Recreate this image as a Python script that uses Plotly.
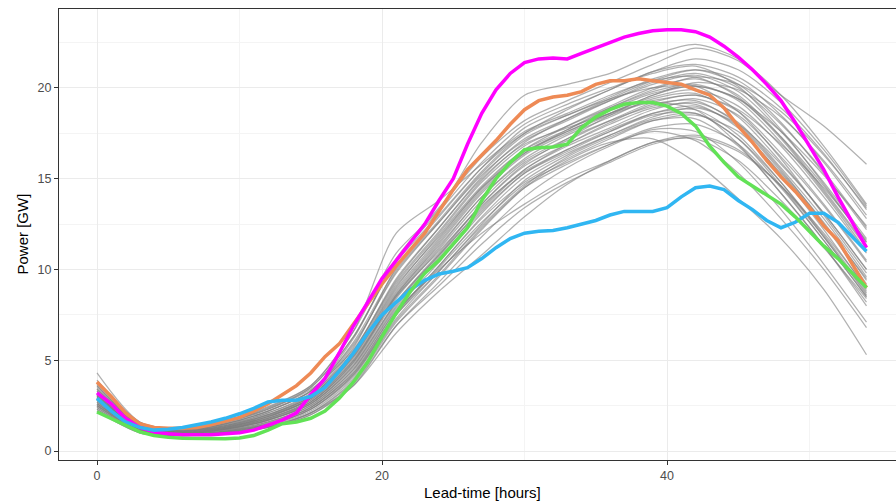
import plotly.graph_objects as go

# ---- data ----
lead_hourly = list(range(55))
lead_3h = [0, 3, 6, 9, 12, 15, 18, 21, 24, 27, 30, 33, 36, 39, 42, 45, 48, 51, 54]

magenta = [3.2, 2.6, 1.8, 1.3, 1.05, 0.95, 0.9, 0.9, 0.9, 0.95, 1.0, 1.15, 1.4, 1.7, 2.1,
           3.1, 4.0, 5.4, 6.9, 8.2, 9.5, 10.5, 11.5, 12.5, 13.8, 15.0, 16.9, 18.6, 19.9, 20.8,
           21.4, 21.6, 21.65, 21.6, 21.9, 22.2, 22.5, 22.8, 23.0, 23.15, 23.2, 23.2, 23.1, 22.8,
           22.3, 21.7, 21.0, 20.2, 19.3, 18.1, 16.8, 15.5, 14.0, 12.6, 11.2]
orange = [3.8, 3.0, 2.1, 1.5, 1.3, 1.25, 1.25, 1.3, 1.45, 1.65, 1.85, 2.2, 2.6, 3.1, 3.6,
          4.3, 5.2, 5.9, 7.0, 8.1, 9.2, 10.2, 11.1, 12.0, 13.2, 14.4, 15.5, 16.3, 17.1, 18.0,
          18.8, 19.3, 19.5, 19.6, 19.8, 20.2, 20.4, 20.4, 20.5, 20.4, 20.3, 20.2, 19.9, 19.6,
          18.9, 17.9, 17.0, 16.0, 15.1, 14.3, 13.4, 12.4, 11.6, 10.3, 9.0]
green = [2.15, 1.8, 1.4, 1.05, 0.85, 0.75, 0.7, 0.68, 0.66, 0.67, 0.72, 0.85, 1.15, 1.5, 1.6,
         1.8, 2.2, 2.9, 3.8, 4.9, 6.3, 7.6, 8.8, 9.8, 10.5, 11.4, 12.3, 13.8, 15.0, 15.9,
         16.6, 16.7, 16.75, 16.9, 17.8, 18.4, 18.8, 19.1, 19.2, 19.2, 19.0, 18.6, 17.9, 16.8,
         15.9, 15.1, 14.6, 14.1, 13.6, 12.9, 12.1, 11.3, 10.6, 9.8, 9.0]
blue = [2.9, 2.2, 1.6, 1.3, 1.15, 1.2, 1.3, 1.45, 1.6, 1.8, 2.05, 2.35, 2.7, 2.8, 2.8,
        3.0, 3.5, 4.4, 5.4, 6.5, 7.5, 8.2, 8.9, 9.4, 9.75, 9.9, 10.1, 10.6, 11.2, 11.7,
        12.0, 12.1, 12.15, 12.3, 12.5, 12.7, 13.0, 13.2, 13.2, 13.2, 13.4, 14.0, 14.5, 14.6,
        14.4, 13.8, 13.3, 12.7, 12.3, 12.6, 13.1, 13.1, 12.6, 11.8, 11.0]

members = [
    [2.9, 1.3, 1.0, 1.2, 1.7, 2.7, 4.9, 8.5, 11.2, 14.0, 16.0, 17.2, 18.2, 19.0, 19.4, 18.5, 16.2, 13.5, 10.4],
    [3.1, 1.4, 1.1, 1.4, 2.0, 3.0, 5.4, 9.2, 12.0, 14.8, 16.8, 17.9, 18.9, 19.8, 20.2, 19.3, 17.0, 14.2, 11.0],
    [2.6, 1.2, 0.95, 1.1, 1.5, 2.4, 4.3, 7.8, 10.4, 13.1, 15.3, 16.6, 17.7, 18.6, 19.0, 17.9, 15.4, 12.6, 9.4],
    [3.4, 1.5, 1.2, 1.5, 2.2, 3.3, 5.9, 9.8, 12.6, 15.3, 17.4, 18.5, 19.5, 20.5, 21.0, 20.2, 18.1, 15.3, 12.2],
    [2.4, 1.1, 0.9, 1.0, 1.4, 2.2, 4.0, 7.3, 9.9, 12.4, 14.6, 16.2, 17.3, 18.2, 18.3, 16.8, 14.2, 11.3, 8.2],
    [3.0, 1.3, 1.05, 1.3, 1.9, 2.9, 5.2, 8.8, 11.6, 14.4, 16.5, 17.6, 18.6, 19.5, 19.9, 19.0, 16.8, 14.0, 10.9],
    [4.3, 1.6, 1.2, 1.6, 2.3, 3.4, 5.6, 9.4, 12.3, 15.0, 16.9, 17.8, 18.6, 19.3, 19.6, 18.8, 16.9, 14.5, 11.6],
    [2.2, 1.0, 0.85, 1.0, 1.3, 2.0, 3.6, 6.9, 9.3, 11.8, 14.0, 15.6, 16.8, 17.7, 17.6, 15.9, 13.3, 10.3, 7.1],
    [3.3, 1.4, 1.1, 1.4, 2.1, 3.1, 5.7, 10.1, 12.9, 15.6, 17.8, 18.9, 19.9, 20.9, 21.6, 21.0, 19.2, 16.6, 13.5],
    [2.8, 1.25, 1.0, 1.2, 1.7, 2.6, 4.7, 8.2, 10.9, 13.6, 15.7, 16.9, 18.0, 18.9, 19.1, 17.8, 15.2, 12.2, 8.9],
    [3.6, 1.5, 1.15, 1.5, 2.2, 3.3, 6.2, 10.6, 13.4, 16.2, 18.2, 19.3, 20.3, 21.3, 22.2, 21.5, 19.6, 17.9, 15.8],
    [2.5, 1.15, 0.9, 1.05, 1.45, 2.3, 4.2, 7.6, 10.2, 12.9, 15.1, 16.4, 17.4, 18.3, 18.6, 17.2, 14.6, 11.6, 8.5],
    [3.2, 1.35, 1.05, 1.35, 2.0, 3.0, 5.5, 9.5, 12.3, 15.1, 17.2, 18.3, 19.3, 20.2, 20.7, 19.8, 17.6, 14.8, 11.7],
    [2.7, 1.2, 1.0, 1.15, 1.6, 2.5, 4.5, 8.0, 10.7, 13.4, 15.5, 16.8, 17.8, 18.8, 19.2, 18.1, 15.6, 12.8, 9.6],
    [3.5, 1.5, 1.2, 1.6, 2.4, 3.6, 6.6, 12.0, 13.8, 15.8, 17.6, 18.6, 19.6, 20.4, 20.6, 19.5, 17.2, 14.3, 11.2],
    [2.3, 1.05, 0.85, 0.95, 1.3, 2.1, 3.8, 7.1, 9.6, 12.2, 14.5, 16.0, 17.0, 17.2, 15.9, 13.9, 11.7, 8.9, 5.3],
    [2.9, 1.3, 1.0, 1.25, 1.8, 2.8, 5.0, 8.6, 11.4, 14.2, 16.3, 17.5, 18.5, 19.2, 18.8, 16.9, 14.2, 11.3, 8.0],
    [3.0, 1.35, 1.05, 1.3, 1.85, 2.9, 5.3, 9.0, 11.9, 14.6, 16.6, 17.7, 18.8, 19.7, 20.1, 19.4, 17.6, 15.2, 12.4],
    [2.6, 1.2, 0.95, 1.1, 1.55, 2.4, 4.4, 7.7, 10.0, 12.0, 13.6, 15.0, 16.0, 17.0, 17.2, 16.0, 13.8, 11.2, 8.4],
    [3.1, 1.4, 1.1, 1.35, 1.95, 3.0, 5.3, 9.1, 11.8, 14.5, 16.4, 17.6, 18.6, 19.6, 20.3, 19.9, 18.4, 16.0, 13.0],
    [2.8, 1.25, 1.0, 1.2, 1.7, 2.6, 4.6, 8.1, 10.8, 13.3, 15.5, 16.9, 18.1, 19.1, 19.3, 18.0, 15.5, 12.5, 9.2],
    [3.7, 1.55, 1.2, 1.6, 2.35, 3.5, 6.3, 10.4, 13.0, 15.6, 17.5, 18.5, 19.4, 20.0, 20.1, 18.7, 16.1, 13.0, 9.8],
    [2.5, 1.15, 0.9, 1.05, 1.45, 2.3, 4.1, 7.5, 9.9, 12.5, 14.9, 16.3, 17.4, 18.4, 18.9, 18.0, 15.8, 13.1, 10.0],
    [3.3, 1.45, 1.1, 1.45, 2.1, 3.2, 5.8, 9.9, 12.6, 15.2, 17.1, 18.2, 19.3, 20.3, 20.8, 20.0, 18.0, 15.4, 12.3],
    [2.9, 1.3, 1.0, 1.2, 1.75, 2.7, 4.8, 8.4, 11.1, 13.8, 15.9, 17.1, 18.2, 19.2, 19.6, 18.7, 16.4, 13.6, 10.5],
    [2.2, 1.0, 0.85, 1.0, 1.3, 2.0, 3.7, 6.9, 9.1, 11.4, 13.4, 14.8, 15.9, 16.9, 17.3, 16.5, 14.6, 12.0, 9.0],
    [2.4, 1.1, 0.9, 1.0, 1.35, 2.1, 3.6, 6.5, 8.8, 10.8, 12.9, 14.7, 16.0, 17.0, 17.4, 16.6, 14.6, 11.8, 8.6],
    [3.0, 1.3, 1.05, 1.3, 1.9, 2.9, 5.1, 8.7, 11.5, 14.3, 16.4, 17.7, 18.9, 19.9, 20.6, 20.2, 18.7, 16.3, 13.4],
    [2.7, 1.2, 0.95, 1.15, 1.6, 2.5, 4.5, 7.9, 10.6, 13.2, 15.3, 16.5, 17.6, 18.6, 18.8, 17.4, 14.8, 11.8, 8.7],
    [3.4, 1.45, 1.15, 1.5, 2.2, 3.3, 6.0, 10.0, 12.7, 15.4, 17.5, 18.8, 19.9, 20.9, 21.3, 20.6, 18.9, 16.4, 13.3],
    [2.6, 1.2, 0.95, 1.1, 1.5, 2.4, 4.3, 7.6, 10.2, 12.8, 14.8, 16.1, 17.2, 18.2, 18.5, 17.6, 15.3, 12.5, 9.5],
    [3.2, 1.4, 1.1, 1.4, 2.0, 3.1, 5.5, 9.3, 12.1, 14.9, 17.0, 18.3, 19.4, 20.4, 21.0, 20.4, 18.5, 15.9, 12.8],
    [2.9, 1.3, 1.0, 1.25, 1.8, 2.7, 4.9, 8.5, 11.0, 13.5, 15.4, 16.6, 17.6, 18.5, 18.6, 17.2, 14.8, 11.9, 8.8],
    [3.6, 1.5, 1.2, 1.55, 2.3, 3.5, 6.3, 10.5, 13.2, 15.9, 18.0, 19.1, 20.0, 20.8, 21.2, 20.1, 17.7, 14.7, 11.5],
    [2.3, 1.05, 0.85, 1.0, 1.35, 2.1, 3.9, 7.2, 9.7, 12.3, 14.5, 15.8, 16.9, 17.8, 18.0, 16.9, 14.5, 11.6, 8.5],
    [3.1, 1.35, 1.05, 1.3, 1.9, 2.9, 5.2, 8.9, 11.7, 14.5, 16.6, 17.9, 19.0, 20.0, 20.5, 19.6, 17.3, 14.4, 11.3],
    [2.8, 1.25, 1.0, 1.2, 1.7, 2.6, 4.7, 8.2, 10.8, 13.6, 15.8, 17.2, 18.5, 19.6, 20.1, 19.4, 17.3, 14.6, 11.5],
    [2.5, 1.15, 0.9, 1.05, 1.45, 2.3, 4.2, 7.5, 10.1, 12.6, 14.7, 15.9, 16.9, 17.6, 17.1, 15.3, 12.8, 10.0, 6.8],
    [3.9, 1.6, 1.25, 1.65, 2.45, 3.6, 6.6, 10.9, 13.3, 17.0, 19.6, 20.2, 20.8, 21.8, 22.4, 21.6, 19.6, 16.8, 13.6],
    [3.0, 1.3, 1.0, 1.25, 1.8, 2.8, 5.0, 8.6, 11.3, 14.0, 16.1, 17.4, 18.4, 19.4, 19.7, 18.4, 15.9, 13.1, 10.0],
]

x_ticks = [0, 20, 40]
y_ticks = [0, 5, 10, 15, 20]
x_label = "Lead-time [hours]"
y_label = "Power [GW]"

fig = go.Figure()

for m in members:
    fig.add_trace(go.Scatter(x=lead_3h, y=m, mode="lines",
                             line=dict(color="rgba(125,125,125,0.6)", width=1.25,
                                       shape="spline", smoothing=0.8),
                             hoverinfo="skip", showlegend=False))

highlight = [(orange, "#EE8A55"), (magenta, "#FF00FF"), (blue, "#30B6F2"), (green, "#62E256")]
for vals, col in highlight:
    fig.add_trace(go.Scatter(x=lead_hourly, y=vals, mode="lines",
                             line=dict(color=col, width=3.5),
                             showlegend=False))

font_family = "Arial, Liberation Sans, sans-serif"

fig.update_layout(
    width=896, height=502,
    margin=dict(l=59, r=0, t=9, b=42),
    paper_bgcolor="white", plot_bgcolor="white",
    font=dict(family=font_family),
    showlegend=False,
)

fig.update_xaxes(
    range=[-2.667, 56.07],
    tickvals=x_ticks, ticktext=[str(v) for v in x_ticks],
    showgrid=True, gridcolor="#EBEBEB", gridwidth=1.1,
    minor=dict(tickvals=[10, 30, 50], showgrid=True, gridcolor="#F4F4F4", gridwidth=0.6, ticklen=0),
    zeroline=False,
    showline=True, linecolor="#333333", linewidth=1.2, mirror=True,
    ticks="outside", ticklen=4, tickcolor="#333333", tickwidth=1,
    tickfont=dict(size=12.5, color="#4D4D4D"),
)
fig.update_yaxes(
    range=[-0.496, 24.35],
    tickvals=y_ticks, ticktext=[str(v) for v in y_ticks],
    showgrid=True, gridcolor="#EBEBEB", gridwidth=1.1,
    minor=dict(tickvals=[2.5, 7.5, 12.5, 17.5, 22.5], showgrid=True, gridcolor="#F4F4F4", gridwidth=0.6, ticklen=0),
    zeroline=False,
    showline=True, linecolor="#333333", linewidth=1.2, mirror=False,
    ticks="outside", ticklen=4, tickcolor="#333333", tickwidth=1,
    tickfont=dict(size=12.5, color="#4D4D4D"),
)

fig.add_annotation(text=x_label, xref="paper", yref="paper",
                   x=(482 - 59) / 837, y=(460 - 492) / 451,
                   showarrow=False, xanchor="center", yanchor="middle",
                   font=dict(size=15, color="black", family=font_family))
fig.add_annotation(text=y_label, xref="paper", yref="paper",
                   x=(22 - 59) / 837, y=0.5, textangle=-90,
                   showarrow=False, xanchor="center", yanchor="middle",
                   font=dict(size=15, color="black", family=font_family))

fig.write_html("out.html",
               config={"displayModeBar": False},
               post_script="document.body.style.margin='0px';document.body.style.overflow='hidden';")
